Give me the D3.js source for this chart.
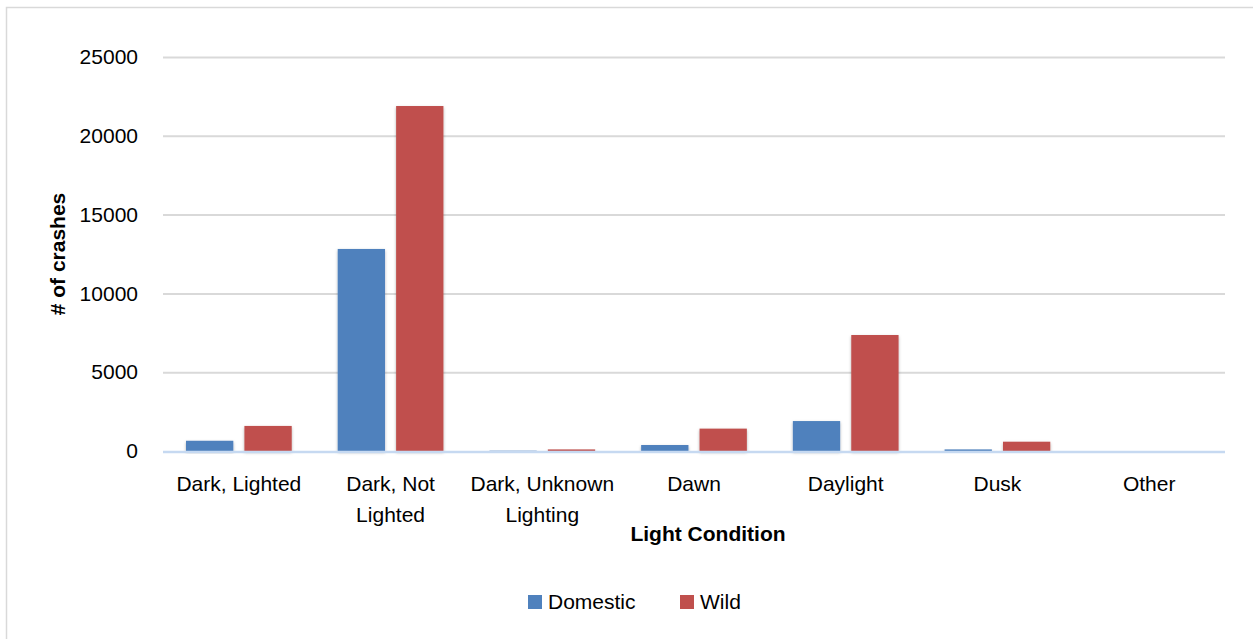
<!DOCTYPE html>
<html>
<head>
<meta charset="utf-8">
<script src="https://cdn.jsdelivr.net/npm/d3@7"></script>
<style>
  html, body { margin: 0; padding: 0; background: #fff; }
  svg { display: block; font-family: "Liberation Sans", Arial, sans-serif; }
</style>
</head>
<body>
<svg id="chart" width="1253" height="639"></svg>
<script>
// Crash counts by light condition
const categories = [
  ["Dark, Lighted"],
  ["Dark, Not", "Lighted"],
  ["Dark, Unknown", "Lighting"],
  ["Dawn"],
  ["Daylight"],
  ["Dusk"],
  ["Other"]
];
const seriesNames = ["Domestic", "Wild"];
const domestic = [650, 12820, 20, 380, 1900, 100, 0];
const wild = [1590, 21890, 100, 1420, 7360, 590, 0];
const yTicks = [0, 5000, 10000, 15000, 20000, 25000];
const colors = ["#4f81bd", "#c0504d"];

const svg = d3.select("#chart");

// outer frame
svg.append("rect")
  .attr("x", 6.5).attr("y", 7.5)
  .attr("width", 1270).attr("height", 660)
  .attr("fill", "none").attr("stroke", "#d9d9d9").attr("stroke-width", 1.5);

const plotLeft = 163, plotRight = 1225, plotTop = 57, plotBottom = 451;

const x0 = d3.scaleBand()
  .domain(d3.range(categories.length))
  .range([plotLeft, plotRight])
  .padding(0);
const groupInset = 23;
const x1 = d3.scaleBand()
  .domain(seriesNames)
  .range([groupInset, x0.bandwidth() - groupInset])
  .paddingInner(0.19);
const y = d3.scaleLinear().domain([0, 25000]).range([plotBottom, plotTop]);

const defs = svg.append("defs");
const f = defs.append("filter").attr("id", "shadow")
  .attr("x", "-20%").attr("y", "-20%").attr("width", "140%").attr("height", "140%");
f.append("feDropShadow").attr("dx", 0).attr("dy", 1.5).attr("stdDeviation", 1.5)
  .attr("flood-color", "#000").attr("flood-opacity", 0.3);

// gridlines and y tick labels
const yAxis = d3.axisLeft(y).tickValues(yTicks).tickSize(-(plotRight - plotLeft)).tickPadding(25)
  .tickFormat(d3.format("d"));
const gy = svg.append("g").attr("transform", `translate(${plotLeft},0)`).call(yAxis);
gy.select(".domain").remove();
gy.selectAll(".tick line").attr("stroke", "#d9d9d9").attr("stroke-width", 2)
  .filter(d => d === 0).remove();
gy.selectAll(".tick text")
  .attr("font-size", 21).attr("fill", "#000")
  .attr("font-family", "'Liberation Sans', Arial, sans-serif");

// bars
const groups = svg.append("g").selectAll("g")
  .data(categories.map((c, i) => i))
  .join("g")
  .attr("transform", i => `translate(${x0(i)},0)`);
groups.selectAll("rect")
  .data(i => [
    { s: seriesNames[0], v: domestic[i], c: colors[0] },
    { s: seriesNames[1], v: wild[i], c: colors[1] }
  ])
  .join("rect")
  .attr("x", d => x1(d.s))
  .attr("width", x1.bandwidth())
  .attr("y", d => y(d.v))
  .attr("height", d => plotBottom - y(d.v))
  .attr("fill", d => d.c)
  .attr("filter", d => d.v > 0 ? "url(#shadow)" : null);

// baseline
svg.append("line")
  .attr("x1", plotLeft).attr("x2", plotRight)
  .attr("y1", plotBottom + 1).attr("y2", plotBottom + 1)
  .attr("stroke", "#c6d9f1").attr("stroke-width", 2.5);

// category labels
const xl = svg.append("g");
categories.forEach((lines, i) => {
  const cx = x0(i) + x0.bandwidth() / 2;
  const t = xl.append("text")
    .attr("x", cx)
    .attr("y", 491)
    .attr("text-anchor", "middle")
    .attr("font-size", 21).attr("fill", "#000");
  lines.forEach((ln, k) => {
    t.append("tspan").attr("x", cx)
      .attr("dy", k === 0 ? 0 : 31).text(ln);
  });
});

// axis titles
svg.append("text")
  .attr("x", 708).attr("y", 541)
  .attr("text-anchor", "middle")
  .attr("font-size", 21).attr("font-weight", "bold").attr("fill", "#000")
  .text("Light Condition");
svg.append("text")
  .attr("transform", `translate(65,254) rotate(-90)`)
  .attr("text-anchor", "middle")
  .attr("font-size", 21).attr("font-weight", "bold").attr("fill", "#000")
  .text("# of crashes");

// legend
const legend = svg.append("g");
const legendItems = [{ name: seriesNames[0], x: 528 }, { name: seriesNames[1], x: 680 }];
legendItems.forEach((d, i) => {
  legend.append("rect").attr("x", d.x).attr("y", 595).attr("width", 14).attr("height", 14)
    .attr("fill", colors[i]);
  legend.append("text").attr("x", d.x + 20).attr("y", 609)
    .attr("font-size", 21).attr("fill", "#000").text(d.name);
});
</script>
</body>
</html>
